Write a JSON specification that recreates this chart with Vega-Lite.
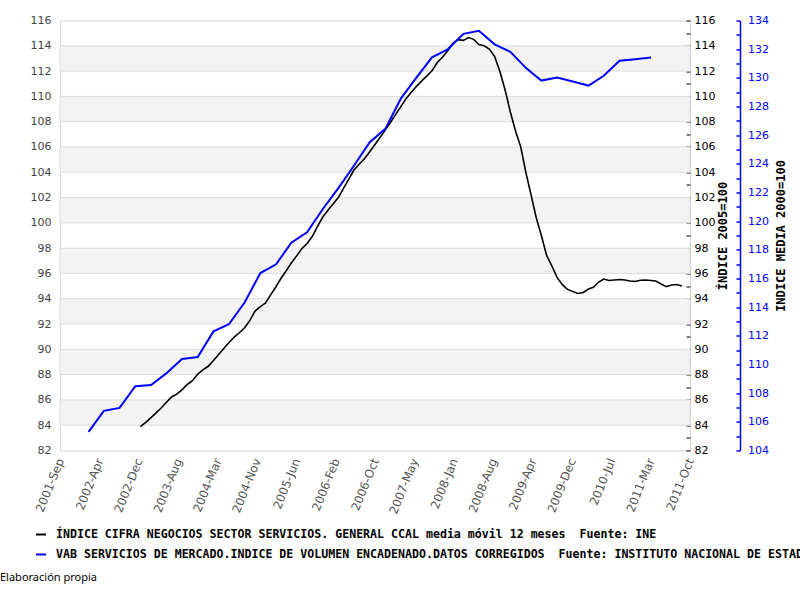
{
  "$schema": "https://vega.github.io/schema/vega-lite/v6.json",
  "width": 630,
  "height": 430,
  "autosize": {"type": "none"},
  "padding": {"left": 60, "top": 20.5, "right": 110, "bottom": 149.5},
  "background": "white",
  "config": {
    "view": {"stroke": "#d4d4d4", "strokeWidth": 1},
    "axis": {"labelFont": "DejaVu Sans", "labelFontSize": 11, "titleFont": "DejaVu Sans Mono"},
    "axisX": {"labelOverlap": false, "labelFontSize": 11.8}
  },
  "title": {
    "text": "Elaboración propia",
    "orient": "bottom",
    "anchor": "start",
    "frame": "group",
    "dx": -60,
    "offset": 11,
    "font": "Noto Sans",
    "fontSize": 11,
    "fontWeight": "normal",
    "color": "#000000"
  },
  "datasets": {
    "bands": [
      {"lo": 84, "hi": 86}, {"lo": 88, "hi": 90}, {"lo": 92, "hi": 94}, {"lo": 96, "hi": 98},
      {"lo": 100, "hi": 102}, {"lo": 104, "hi": 106}, {"lo": 108, "hi": 110}, {"lo": 112, "hi": 114}
    ],
    "series": [
      {"s": "cifra", "d": "2002-12-15", "v": 83.88},
      {"s": "cifra", "d": "2003-01-15", "v": 84.22},
      {"s": "cifra", "d": "2003-02-15", "v": 84.60},
      {"s": "cifra", "d": "2003-03-15", "v": 84.95},
      {"s": "cifra", "d": "2003-04-15", "v": 85.36},
      {"s": "cifra", "d": "2003-05-15", "v": 85.79},
      {"s": "cifra", "d": "2003-06-15", "v": 86.23},
      {"s": "cifra", "d": "2003-07-15", "v": 86.46},
      {"s": "cifra", "d": "2003-08-15", "v": 86.80},
      {"s": "cifra", "d": "2003-09-15", "v": 87.22},
      {"s": "cifra", "d": "2003-10-15", "v": 87.52},
      {"s": "cifra", "d": "2003-11-15", "v": 88.04},
      {"s": "cifra", "d": "2003-12-15", "v": 88.38},
      {"s": "cifra", "d": "2004-01-15", "v": 88.66},
      {"s": "cifra", "d": "2004-02-15", "v": 89.11},
      {"s": "cifra", "d": "2004-03-15", "v": 89.57},
      {"s": "cifra", "d": "2004-04-15", "v": 90.06},
      {"s": "cifra", "d": "2004-05-15", "v": 90.52},
      {"s": "cifra", "d": "2004-06-15", "v": 90.97},
      {"s": "cifra", "d": "2004-07-15", "v": 91.31},
      {"s": "cifra", "d": "2004-08-15", "v": 91.70},
      {"s": "cifra", "d": "2004-09-15", "v": 92.29},
      {"s": "cifra", "d": "2004-10-15", "v": 93.02},
      {"s": "cifra", "d": "2004-11-15", "v": 93.38},
      {"s": "cifra", "d": "2004-12-15", "v": 93.66},
      {"s": "cifra", "d": "2005-01-15", "v": 94.33},
      {"s": "cifra", "d": "2005-02-15", "v": 94.97},
      {"s": "cifra", "d": "2005-03-15", "v": 95.60},
      {"s": "cifra", "d": "2005-04-15", "v": 96.21},
      {"s": "cifra", "d": "2005-05-15", "v": 96.82},
      {"s": "cifra", "d": "2005-06-15", "v": 97.39},
      {"s": "cifra", "d": "2005-07-15", "v": 97.95},
      {"s": "cifra", "d": "2005-08-15", "v": 98.37},
      {"s": "cifra", "d": "2005-09-15", "v": 98.94},
      {"s": "cifra", "d": "2005-10-15", "v": 99.73},
      {"s": "cifra", "d": "2005-11-15", "v": 100.46},
      {"s": "cifra", "d": "2005-12-15", "v": 100.99},
      {"s": "cifra", "d": "2006-01-15", "v": 101.51},
      {"s": "cifra", "d": "2006-02-15", "v": 102.03},
      {"s": "cifra", "d": "2006-03-15", "v": 102.70},
      {"s": "cifra", "d": "2006-04-15", "v": 103.43},
      {"s": "cifra", "d": "2006-05-15", "v": 104.16},
      {"s": "cifra", "d": "2006-06-15", "v": 104.64},
      {"s": "cifra", "d": "2006-07-15", "v": 105.05},
      {"s": "cifra", "d": "2006-08-15", "v": 105.60},
      {"s": "cifra", "d": "2006-09-15", "v": 106.18},
      {"s": "cifra", "d": "2006-10-15", "v": 106.75},
      {"s": "cifra", "d": "2006-11-15", "v": 107.33},
      {"s": "cifra", "d": "2006-12-15", "v": 107.93},
      {"s": "cifra", "d": "2007-01-15", "v": 108.58},
      {"s": "cifra", "d": "2007-02-15", "v": 109.21},
      {"s": "cifra", "d": "2007-03-15", "v": 109.79},
      {"s": "cifra", "d": "2007-04-15", "v": 110.30},
      {"s": "cifra", "d": "2007-05-15", "v": 110.77},
      {"s": "cifra", "d": "2007-06-15", "v": 111.21},
      {"s": "cifra", "d": "2007-07-15", "v": 111.60},
      {"s": "cifra", "d": "2007-08-15", "v": 112.02},
      {"s": "cifra", "d": "2007-09-15", "v": 112.68},
      {"s": "cifra", "d": "2007-10-15", "v": 113.09},
      {"s": "cifra", "d": "2007-11-15", "v": 113.60},
      {"s": "cifra", "d": "2007-12-15", "v": 114.20},
      {"s": "cifra", "d": "2008-01-15", "v": 114.49},
      {"s": "cifra", "d": "2008-02-15", "v": 114.43},
      {"s": "cifra", "d": "2008-03-15", "v": 114.65},
      {"s": "cifra", "d": "2008-04-15", "v": 114.51},
      {"s": "cifra", "d": "2008-05-15", "v": 114.10},
      {"s": "cifra", "d": "2008-06-15", "v": 114.00},
      {"s": "cifra", "d": "2008-07-15", "v": 113.74},
      {"s": "cifra", "d": "2008-08-15", "v": 113.16},
      {"s": "cifra", "d": "2008-09-15", "v": 111.96},
      {"s": "cifra", "d": "2008-10-15", "v": 110.52},
      {"s": "cifra", "d": "2008-11-15", "v": 108.77},
      {"s": "cifra", "d": "2008-12-15", "v": 107.29},
      {"s": "cifra", "d": "2009-01-15", "v": 105.99},
      {"s": "cifra", "d": "2009-02-15", "v": 103.90},
      {"s": "cifra", "d": "2009-03-15", "v": 102.28},
      {"s": "cifra", "d": "2009-04-15", "v": 100.42},
      {"s": "cifra", "d": "2009-05-15", "v": 99.02},
      {"s": "cifra", "d": "2009-06-15", "v": 97.42},
      {"s": "cifra", "d": "2009-07-15", "v": 96.61},
      {"s": "cifra", "d": "2009-08-15", "v": 95.69},
      {"s": "cifra", "d": "2009-09-15", "v": 95.11},
      {"s": "cifra", "d": "2009-10-15", "v": 94.74},
      {"s": "cifra", "d": "2009-11-15", "v": 94.57},
      {"s": "cifra", "d": "2009-12-15", "v": 94.42},
      {"s": "cifra", "d": "2010-01-15", "v": 94.50},
      {"s": "cifra", "d": "2010-02-15", "v": 94.77},
      {"s": "cifra", "d": "2010-03-15", "v": 94.90},
      {"s": "cifra", "d": "2010-04-15", "v": 95.32},
      {"s": "cifra", "d": "2010-05-15", "v": 95.56},
      {"s": "cifra", "d": "2010-06-15", "v": 95.44},
      {"s": "cifra", "d": "2010-07-15", "v": 95.48},
      {"s": "cifra", "d": "2010-08-15", "v": 95.52},
      {"s": "cifra", "d": "2010-09-15", "v": 95.48},
      {"s": "cifra", "d": "2010-10-15", "v": 95.40},
      {"s": "cifra", "d": "2010-11-15", "v": 95.37},
      {"s": "cifra", "d": "2010-12-15", "v": 95.46},
      {"s": "cifra", "d": "2011-01-15", "v": 95.48},
      {"s": "cifra", "d": "2011-02-15", "v": 95.44},
      {"s": "cifra", "d": "2011-03-15", "v": 95.40},
      {"s": "cifra", "d": "2011-04-15", "v": 95.16},
      {"s": "cifra", "d": "2011-05-15", "v": 94.96},
      {"s": "cifra", "d": "2011-06-15", "v": 95.08},
      {"s": "cifra", "d": "2011-07-15", "v": 95.12},
      {"s": "cifra", "d": "2011-08-15", "v": 95.00},
      {"s": "vab", "d": "2002-02-15", "v": 105.30},
      {"s": "vab", "d": "2002-05-15", "v": 106.77},
      {"s": "vab", "d": "2002-08-15", "v": 106.97},
      {"s": "vab", "d": "2002-11-15", "v": 108.49},
      {"s": "vab", "d": "2003-02-15", "v": 108.57},
      {"s": "vab", "d": "2003-05-15", "v": 109.38},
      {"s": "vab", "d": "2003-08-15", "v": 110.38},
      {"s": "vab", "d": "2003-11-15", "v": 110.52},
      {"s": "vab", "d": "2004-02-15", "v": 112.31},
      {"s": "vab", "d": "2004-05-15", "v": 112.81},
      {"s": "vab", "d": "2004-08-15", "v": 114.32},
      {"s": "vab", "d": "2004-11-15", "v": 116.38},
      {"s": "vab", "d": "2005-02-15", "v": 116.99},
      {"s": "vab", "d": "2005-05-15", "v": 118.50},
      {"s": "vab", "d": "2005-08-15", "v": 119.22},
      {"s": "vab", "d": "2005-11-15", "v": 120.85},
      {"s": "vab", "d": "2006-02-15", "v": 122.32},
      {"s": "vab", "d": "2006-05-15", "v": 123.85},
      {"s": "vab", "d": "2006-08-15", "v": 125.49},
      {"s": "vab", "d": "2006-11-15", "v": 126.44},
      {"s": "vab", "d": "2007-02-15", "v": 128.57},
      {"s": "vab", "d": "2007-05-15", "v": 130.00},
      {"s": "vab", "d": "2007-08-15", "v": 131.43},
      {"s": "vab", "d": "2007-11-15", "v": 131.99},
      {"s": "vab", "d": "2008-02-15", "v": 133.07},
      {"s": "vab", "d": "2008-05-15", "v": 133.28},
      {"s": "vab", "d": "2008-08-15", "v": 132.34},
      {"s": "vab", "d": "2008-11-15", "v": 131.81},
      {"s": "vab", "d": "2009-02-15", "v": 130.68},
      {"s": "vab", "d": "2009-05-15", "v": 129.81},
      {"s": "vab", "d": "2009-08-15", "v": 130.02},
      {"s": "vab", "d": "2009-11-15", "v": 129.75},
      {"s": "vab", "d": "2010-02-15", "v": 129.46},
      {"s": "vab", "d": "2010-05-15", "v": 130.14},
      {"s": "vab", "d": "2010-08-15", "v": 131.19},
      {"s": "vab", "d": "2010-11-15", "v": 131.30},
      {"s": "vab", "d": "2011-02-15", "v": 131.42}
    ]
  },
  "layer": [
    {
      "data": {"name": "bands"},
      "mark": {"type": "rect", "fill": "#f3f3f3", "stroke": "#dcdcdc", "strokeWidth": 1},
      "encoding": {
        "y": {
          "field": "lo", "type": "quantitative",
          "scale": {"domain": [82, 116], "nice": false, "zero": false},
          "axis": {
            "orient": "left", "values": [82,84,86,88,90,92,94,96,98,100,102,104,106,108,110,112,114,116],
            "grid": false, "ticks": false, "domain": false, "labelColor": "#444444",
            "labelPadding": 9, "title": null
          }
        },
        "y2": {"field": "hi"}
      }
    },
    {
      "data": {"name": "series"},
      "transform": [{"filter": "datum.s == 'cifra'"}],
      "mark": {"type": "line", "strokeWidth": 1.6, "interpolate": "linear"},
      "encoding": {
        "x": {
          "field": "d", "type": "temporal",
          "scale": {"domain": [{"year": 2001, "month": 9, "date": 1}, {"year": 2011, "month": 10, "date": 1}]},
          "axis": {
            "orient": "bottom", "title": null, "grid": false, "ticks": false, "domain": false,
            "values": [
              {"year": 2001, "month": 9, "date": 1},
              {"year": 2002, "month": 4, "date": 19, "hours": 3},
              {"year": 2002, "month": 12, "date": 5, "hours": 6},
              {"year": 2003, "month": 7, "date": 23, "hours": 9},
              {"year": 2004, "month": 3, "date": 9, "hours": 12},
              {"year": 2004, "month": 10, "date": 25, "hours": 15},
              {"year": 2005, "month": 6, "date": 12, "hours": 18},
              {"year": 2006, "month": 1, "date": 29, "hours": 21},
              {"year": 2006, "month": 9, "date": 16},
              {"year": 2007, "month": 5, "date": 4, "hours": 3},
              {"year": 2007, "month": 12, "date": 20, "hours": 6},
              {"year": 2008, "month": 8, "date": 6, "hours": 9},
              {"year": 2009, "month": 3, "date": 24, "hours": 12},
              {"year": 2009, "month": 11, "date": 9, "hours": 15},
              {"year": 2010, "month": 6, "date": 27, "hours": 18},
              {"year": 2011, "month": 2, "date": 12, "hours": 21},
              {"year": 2011, "month": 10, "date": 1}
            ],
            "labelExpr": "['2001-Sep','2002-Apr','2002-Dec','2003-Aug','2004-Mar','2004-Nov','2005-Jun','2006-Feb','2006-Oct','2007-May','2008-Jan','2008-Aug','2009-Apr','2009-Dec','2010-Jul','2011-Mar','2011-Oct'][round((datum.value - datetime(2001,8,1)) / 19882800000)]",
            "labelAngle": -68, "labelAlign": "right", "labelBaseline": "middle",
            "labelColor": "#555555", "labelPadding": 8, "labelOverlap": false, "labelFlush": false
          }
        },
        "y": {
          "field": "v", "type": "quantitative",
          "scale": {"domain": [82, 116], "nice": false, "zero": false},
          "axis": {
            "orient": "right", "offset": -4,
            "values": [82,83,84,85,86,87,88,89,90,91,92,93,94,95,96,97,98,99,100,101,102,103,104,105,106,107,108,109,110,111,112,113,114,115,116],
            "labelExpr": "datum.value % 2 == 0 ? datum.label : ''",
            "grid": false, "domain": false, "ticks": true, "tickSize": 4, "tickColor": "#000000",
            "labelColor": "#000000", "labelPadding": 4, "labelAlign": "left",
            "title": "ÍNDICE 2005=100", "titleFontWeight": "bold", "titleFontSize": 12,
            "titleColor": "#000000", "titleAngle": -90, "titleX": 36, "titleY": 215,
            "titleAlign": "center", "titleBaseline": "middle"
          }
        },
        "color": {
          "field": "s", "type": "nominal",
          "scale": {"domain": ["cifra", "vab"], "range": ["#000000", "#0000ff"]},
          "legend": {
            "orient": "none", "legendX": -25, "legendY": 508, "title": null,
            "symbolType": "stroke", "symbolSize": 100, "symbolStrokeWidth": 2,
            "labelFont": "DejaVu Sans Mono", "labelFontWeight": "bold", "labelFontSize": 11.6,
            "labelColor": "#000000", "labelLimit": 3000, "labelOffset": 9, "rowPadding": 8,
            "labelExpr": "datum.value == 'cifra' ? 'ÍNDICE CIFRA NEGOCIOS SECTOR SERVICIOS. GENERAL CCAL media móvil 12 meses\u00a0 Fuente: INE' : 'VAB SERVICIOS DE MERCADO.INDICE DE VOLUMEN ENCADENADO.DATOS CORREGIDOS\u00a0 Fuente: INSTITUTO NACIONAL DE ESTADÍSTICA'"
          }
        }
      }
    },
    {
      "data": {"name": "series"},
      "transform": [{"filter": "datum.s == 'vab'"}],
      "mark": {"type": "line", "strokeWidth": 2, "interpolate": "linear"},
      "encoding": {
        "x": {
          "field": "d", "type": "temporal",
          "scale": {"domain": [{"year": 2001, "month": 9, "date": 1}, {"year": 2011, "month": 10, "date": 1}]},
          "axis": {
            "orient": "bottom", "title": null, "grid": false, "ticks": false, "domain": false,
            "values": [
              {"year": 2001, "month": 9, "date": 1},
              {"year": 2002, "month": 4, "date": 19, "hours": 3},
              {"year": 2002, "month": 12, "date": 5, "hours": 6},
              {"year": 2003, "month": 7, "date": 23, "hours": 9},
              {"year": 2004, "month": 3, "date": 9, "hours": 12},
              {"year": 2004, "month": 10, "date": 25, "hours": 15},
              {"year": 2005, "month": 6, "date": 12, "hours": 18},
              {"year": 2006, "month": 1, "date": 29, "hours": 21},
              {"year": 2006, "month": 9, "date": 16},
              {"year": 2007, "month": 5, "date": 4, "hours": 3},
              {"year": 2007, "month": 12, "date": 20, "hours": 6},
              {"year": 2008, "month": 8, "date": 6, "hours": 9},
              {"year": 2009, "month": 3, "date": 24, "hours": 12},
              {"year": 2009, "month": 11, "date": 9, "hours": 15},
              {"year": 2010, "month": 6, "date": 27, "hours": 18},
              {"year": 2011, "month": 2, "date": 12, "hours": 21},
              {"year": 2011, "month": 10, "date": 1}
            ],
            "labelExpr": "['2001-Sep','2002-Apr','2002-Dec','2003-Aug','2004-Mar','2004-Nov','2005-Jun','2006-Feb','2006-Oct','2007-May','2008-Jan','2008-Aug','2009-Apr','2009-Dec','2010-Jul','2011-Mar','2011-Oct'][round((datum.value - datetime(2001,8,1)) / 19882800000)]",
            "labelAngle": -68, "labelAlign": "right", "labelBaseline": "middle",
            "labelColor": "#555555", "labelPadding": 8, "labelOverlap": false, "labelFlush": false
          }
        },
        "y": {
          "field": "v", "type": "quantitative",
          "scale": {"domain": [104, 134], "nice": false, "zero": false},
          "axis": {
            "orient": "right", "offset": 50,
            "values": [104,105,106,107,108,109,110,111,112,113,114,115,116,117,118,119,120,121,122,123,124,125,126,127,128,129,130,131,132,133,134],
            "labelExpr": "datum.value % 2 == 0 ? datum.label : ''",
            "grid": false, "domain": true, "domainColor": "#0000ff", "domainWidth": 1.5,
            "ticks": true, "tickSize": -4, "tickColor": "#0000ff", "tickWidth": 1.5,
            "labelColor": "#0000ff", "labelPadding": 11.5, "labelAlign": "left",
            "title": "INDICE MEDIA 2000=100", "titleFontWeight": "bold", "titleFontSize": 12,
            "titleColor": "#000000", "titleAngle": -90, "titleX": 40, "titleY": 215,
            "titleAlign": "center", "titleBaseline": "middle"
          }
        },
        "color": {"field": "s", "type": "nominal"}
      }
    }
  ],
  "resolve": {"scale": {"y": "independent"}, "axis": {"y": "independent"}}
}
